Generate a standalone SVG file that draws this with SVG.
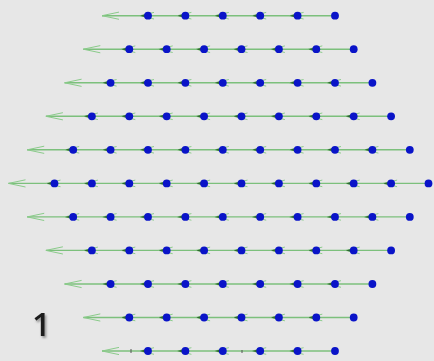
<svg xmlns="http://www.w3.org/2000/svg" width="434" height="361" viewBox="0 0 434 361">
<style>
.e{stroke:#7cc07c;stroke-width:1.4;marker-end:url(#ah)}
.t{stroke:#7cc07c;stroke-width:1.4;marker-end:url(#tip)}
.n{fill:#0a14c8}
.lbl{font-family:"Open Sans","Liberation Sans",sans-serif;font-size:33px;font-weight:600;fill:#1a1a1a}
</style>
<defs>
<marker id="ah" markerUnits="userSpaceOnUse" markerWidth="16" markerHeight="10" refX="6" refY="5" orient="auto" overflow="visible">
<path d="M0,1.7 L14,5 L0,8.3" fill="none" stroke="#8ccc8c" stroke-width="1"/>
<path d="M14,5 L8,3.3 L8,6.7 Z" fill="#2e6a2e"/>
</marker>
<marker id="tip" markerUnits="userSpaceOnUse" markerWidth="18" markerHeight="8" refX="17" refY="4" orient="auto" overflow="visible">
<path d="M0,0.4 L17,4 L0,7.6" fill="none" stroke="#8acb8a" stroke-width="1"/>
</marker>
<filter id="sh" x="-30%" y="-30%" width="160%" height="160%">
<feDropShadow dx="1.5" dy="2" stdDeviation="1" flood-color="#7a7a7a" flood-opacity="0.8"/>
</filter>
</defs>
<rect width="434" height="361" fill="#e7e7e7"/>
<g id="connectors">
<!-- row 0 -->
<line class="t" x1="148" y1="15.7" x2="102" y2="15.7"/>
<line class="e" x1="185.4" y1="15.7" x2="148" y2="15.7"/>
<line class="e" x1="222.8" y1="15.7" x2="185.4" y2="15.7"/>
<line class="e" x1="260.2" y1="15.7" x2="222.8" y2="15.7"/>
<line class="e" x1="297.6" y1="15.7" x2="260.2" y2="15.7"/>
<line class="e" x1="335" y1="15.7" x2="297.6" y2="15.7"/>
<!-- row 1 -->
<line class="t" x1="129.3" y1="49.2" x2="83.3" y2="49.2"/>
<line class="e" x1="166.7" y1="49.2" x2="129.3" y2="49.2"/>
<line class="e" x1="204.1" y1="49.2" x2="166.7" y2="49.2"/>
<line class="e" x1="241.5" y1="49.2" x2="204.1" y2="49.2"/>
<line class="e" x1="278.9" y1="49.2" x2="241.5" y2="49.2"/>
<line class="e" x1="316.3" y1="49.2" x2="278.9" y2="49.2"/>
<line class="e" x1="353.7" y1="49.2" x2="316.3" y2="49.2"/>
<!-- row 2 -->
<line class="t" x1="110.6" y1="82.8" x2="64.6" y2="82.8"/>
<line class="e" x1="148" y1="82.8" x2="110.6" y2="82.8"/>
<line class="e" x1="185.4" y1="82.8" x2="148" y2="82.8"/>
<line class="e" x1="222.8" y1="82.8" x2="185.4" y2="82.8"/>
<line class="e" x1="260.2" y1="82.8" x2="222.8" y2="82.8"/>
<line class="e" x1="297.6" y1="82.8" x2="260.2" y2="82.8"/>
<line class="e" x1="335" y1="82.8" x2="297.6" y2="82.8"/>
<line class="e" x1="372.4" y1="82.8" x2="335" y2="82.8"/>
<!-- row 3 -->
<line class="t" x1="91.9" y1="116.3" x2="45.9" y2="116.3"/>
<line class="e" x1="129.3" y1="116.3" x2="91.9" y2="116.3"/>
<line class="e" x1="166.7" y1="116.3" x2="129.3" y2="116.3"/>
<line class="e" x1="204.1" y1="116.3" x2="166.7" y2="116.3"/>
<line class="e" x1="241.5" y1="116.3" x2="204.1" y2="116.3"/>
<line class="e" x1="278.9" y1="116.3" x2="241.5" y2="116.3"/>
<line class="e" x1="316.3" y1="116.3" x2="278.9" y2="116.3"/>
<line class="e" x1="353.7" y1="116.3" x2="316.3" y2="116.3"/>
<line class="e" x1="391.1" y1="116.3" x2="353.7" y2="116.3"/>
<!-- row 4 -->
<line class="t" x1="73.2" y1="149.8" x2="27.2" y2="149.8"/>
<line class="e" x1="110.6" y1="149.8" x2="73.2" y2="149.8"/>
<line class="e" x1="148" y1="149.8" x2="110.6" y2="149.8"/>
<line class="e" x1="185.4" y1="149.8" x2="148" y2="149.8"/>
<line class="e" x1="222.8" y1="149.8" x2="185.4" y2="149.8"/>
<line class="e" x1="260.2" y1="149.8" x2="222.8" y2="149.8"/>
<line class="e" x1="297.6" y1="149.8" x2="260.2" y2="149.8"/>
<line class="e" x1="335" y1="149.8" x2="297.6" y2="149.8"/>
<line class="e" x1="372.4" y1="149.8" x2="335" y2="149.8"/>
<line class="e" x1="409.8" y1="149.8" x2="372.4" y2="149.8"/>
<!-- row 5 -->
<line class="t" x1="54.5" y1="183.4" x2="8.5" y2="183.4"/>
<line class="e" x1="91.9" y1="183.4" x2="54.5" y2="183.4"/>
<line class="e" x1="129.3" y1="183.4" x2="91.9" y2="183.4"/>
<line class="e" x1="166.7" y1="183.4" x2="129.3" y2="183.4"/>
<line class="e" x1="204.1" y1="183.4" x2="166.7" y2="183.4"/>
<line class="e" x1="241.5" y1="183.4" x2="204.1" y2="183.4"/>
<line class="e" x1="278.9" y1="183.4" x2="241.5" y2="183.4"/>
<line class="e" x1="316.3" y1="183.4" x2="278.9" y2="183.4"/>
<line class="e" x1="353.7" y1="183.4" x2="316.3" y2="183.4"/>
<line class="e" x1="391.1" y1="183.4" x2="353.7" y2="183.4"/>
<line class="e" x1="428.5" y1="183.4" x2="391.1" y2="183.4"/>
<!-- row 6 -->
<line class="t" x1="73.2" y1="216.9" x2="27.2" y2="216.9"/>
<line class="e" x1="110.6" y1="216.9" x2="73.2" y2="216.9"/>
<line class="e" x1="148" y1="216.9" x2="110.6" y2="216.9"/>
<line class="e" x1="185.4" y1="216.9" x2="148" y2="216.9"/>
<line class="e" x1="222.8" y1="216.9" x2="185.4" y2="216.9"/>
<line class="e" x1="260.2" y1="216.9" x2="222.8" y2="216.9"/>
<line class="e" x1="297.6" y1="216.9" x2="260.2" y2="216.9"/>
<line class="e" x1="335" y1="216.9" x2="297.6" y2="216.9"/>
<line class="e" x1="372.4" y1="216.9" x2="335" y2="216.9"/>
<line class="e" x1="409.8" y1="216.9" x2="372.4" y2="216.9"/>
<!-- row 7 -->
<line class="t" x1="91.9" y1="250.4" x2="45.9" y2="250.4"/>
<line class="e" x1="129.3" y1="250.4" x2="91.9" y2="250.4"/>
<line class="e" x1="166.7" y1="250.4" x2="129.3" y2="250.4"/>
<line class="e" x1="204.1" y1="250.4" x2="166.7" y2="250.4"/>
<line class="e" x1="241.5" y1="250.4" x2="204.1" y2="250.4"/>
<line class="e" x1="278.9" y1="250.4" x2="241.5" y2="250.4"/>
<line class="e" x1="316.3" y1="250.4" x2="278.9" y2="250.4"/>
<line class="e" x1="353.7" y1="250.4" x2="316.3" y2="250.4"/>
<line class="e" x1="391.1" y1="250.4" x2="353.7" y2="250.4"/>
<!-- row 8 -->
<line class="t" x1="110.6" y1="284" x2="64.6" y2="284"/>
<line class="e" x1="148" y1="284" x2="110.6" y2="284"/>
<line class="e" x1="185.4" y1="284" x2="148" y2="284"/>
<line class="e" x1="222.8" y1="284" x2="185.4" y2="284"/>
<line class="e" x1="260.2" y1="284" x2="222.8" y2="284"/>
<line class="e" x1="297.6" y1="284" x2="260.2" y2="284"/>
<line class="e" x1="335" y1="284" x2="297.6" y2="284"/>
<line class="e" x1="372.4" y1="284" x2="335" y2="284"/>
<!-- row 9 -->
<line class="t" x1="129.3" y1="317.5" x2="83.3" y2="317.5"/>
<line class="e" x1="166.7" y1="317.5" x2="129.3" y2="317.5"/>
<line class="e" x1="204.1" y1="317.5" x2="166.7" y2="317.5"/>
<line class="e" x1="241.5" y1="317.5" x2="204.1" y2="317.5"/>
<line class="e" x1="278.9" y1="317.5" x2="241.5" y2="317.5"/>
<line class="e" x1="316.3" y1="317.5" x2="278.9" y2="317.5"/>
<line class="e" x1="353.7" y1="317.5" x2="316.3" y2="317.5"/>
<!-- row 10 -->
<line class="t" x1="148" y1="351" x2="102" y2="351"/>
<line class="e" x1="185.4" y1="351" x2="148" y2="351"/>
<line class="e" x1="222.8" y1="351" x2="185.4" y2="351"/>
<line class="e" x1="260.2" y1="351" x2="222.8" y2="351"/>
<line class="e" x1="297.6" y1="351" x2="260.2" y2="351"/>
<line class="e" x1="335" y1="351" x2="297.6" y2="351"/>
</g>
<g id="ticks" stroke="#555" stroke-width="1">
<line x1="131" y1="349" x2="131" y2="353"/>
<line x1="242" y1="350" x2="242" y2="353"/>
</g>
<g id="nodes">
<g id="r0d0"><circle class="n" cx="148" cy="15.7" r="3.9"/></g>
<g id="r0d1"><circle class="n" cx="185.4" cy="15.7" r="3.9"/></g>
<g id="r0d2"><circle class="n" cx="222.8" cy="15.7" r="3.9"/></g>
<g id="r0d3"><circle class="n" cx="260.2" cy="15.7" r="3.9"/></g>
<g id="r0d4"><circle class="n" cx="297.6" cy="15.7" r="3.9"/></g>
<g id="r0d5"><circle class="n" cx="335" cy="15.7" r="3.9"/></g>
<g id="r1d0"><circle class="n" cx="129.3" cy="49.2" r="3.9"/></g>
<g id="r1d1"><circle class="n" cx="166.7" cy="49.2" r="3.9"/></g>
<g id="r1d2"><circle class="n" cx="204.1" cy="49.2" r="3.9"/></g>
<g id="r1d3"><circle class="n" cx="241.5" cy="49.2" r="3.9"/></g>
<g id="r1d4"><circle class="n" cx="278.9" cy="49.2" r="3.9"/></g>
<g id="r1d5"><circle class="n" cx="316.3" cy="49.2" r="3.9"/></g>
<g id="r1d6"><circle class="n" cx="353.7" cy="49.2" r="3.9"/></g>
<g id="r2d0"><circle class="n" cx="110.6" cy="82.8" r="3.9"/></g>
<g id="r2d1"><circle class="n" cx="148" cy="82.8" r="3.9"/></g>
<g id="r2d2"><circle class="n" cx="185.4" cy="82.8" r="3.9"/></g>
<g id="r2d3"><circle class="n" cx="222.8" cy="82.8" r="3.9"/></g>
<g id="r2d4"><circle class="n" cx="260.2" cy="82.8" r="3.9"/></g>
<g id="r2d5"><circle class="n" cx="297.6" cy="82.8" r="3.9"/></g>
<g id="r2d6"><circle class="n" cx="335" cy="82.8" r="3.9"/></g>
<g id="r2d7"><circle class="n" cx="372.4" cy="82.8" r="3.9"/></g>
<g id="r3d0"><circle class="n" cx="91.9" cy="116.3" r="3.9"/></g>
<g id="r3d1"><circle class="n" cx="129.3" cy="116.3" r="3.9"/></g>
<g id="r3d2"><circle class="n" cx="166.7" cy="116.3" r="3.9"/></g>
<g id="r3d3"><circle class="n" cx="204.1" cy="116.3" r="3.9"/></g>
<g id="r3d4"><circle class="n" cx="241.5" cy="116.3" r="3.9"/></g>
<g id="r3d5"><circle class="n" cx="278.9" cy="116.3" r="3.9"/></g>
<g id="r3d6"><circle class="n" cx="316.3" cy="116.3" r="3.9"/></g>
<g id="r3d7"><circle class="n" cx="353.7" cy="116.3" r="3.9"/></g>
<g id="r3d8"><circle class="n" cx="391.1" cy="116.3" r="3.9"/></g>
<g id="r4d0"><circle class="n" cx="73.2" cy="149.8" r="3.9"/></g>
<g id="r4d1"><circle class="n" cx="110.6" cy="149.8" r="3.9"/></g>
<g id="r4d2"><circle class="n" cx="148" cy="149.8" r="3.9"/></g>
<g id="r4d3"><circle class="n" cx="185.4" cy="149.8" r="3.9"/></g>
<g id="r4d4"><circle class="n" cx="222.8" cy="149.8" r="3.9"/></g>
<g id="r4d5"><circle class="n" cx="260.2" cy="149.8" r="3.9"/></g>
<g id="r4d6"><circle class="n" cx="297.6" cy="149.8" r="3.9"/></g>
<g id="r4d7"><circle class="n" cx="335" cy="149.8" r="3.9"/></g>
<g id="r4d8"><circle class="n" cx="372.4" cy="149.8" r="3.9"/></g>
<g id="r4d9"><circle class="n" cx="409.8" cy="149.8" r="3.9"/></g>
<g id="r5d0"><circle class="n" cx="54.5" cy="183.4" r="3.9"/></g>
<g id="r5d1"><circle class="n" cx="91.9" cy="183.4" r="3.9"/></g>
<g id="r5d2"><circle class="n" cx="129.3" cy="183.4" r="3.9"/></g>
<g id="r5d3"><circle class="n" cx="166.7" cy="183.4" r="3.9"/></g>
<g id="r5d4"><circle class="n" cx="204.1" cy="183.4" r="3.9"/></g>
<g id="r5d5"><circle class="n" cx="241.5" cy="183.4" r="3.9"/></g>
<g id="r5d6"><circle class="n" cx="278.9" cy="183.4" r="3.9"/></g>
<g id="r5d7"><circle class="n" cx="316.3" cy="183.4" r="3.9"/></g>
<g id="r5d8"><circle class="n" cx="353.7" cy="183.4" r="3.9"/></g>
<g id="r5d9"><circle class="n" cx="391.1" cy="183.4" r="3.9"/></g>
<g id="r5d10"><circle class="n" cx="428.5" cy="183.4" r="3.9"/></g>
<g id="r6d0"><circle class="n" cx="73.2" cy="216.9" r="3.9"/></g>
<g id="r6d1"><circle class="n" cx="110.6" cy="216.9" r="3.9"/></g>
<g id="r6d2"><circle class="n" cx="148" cy="216.9" r="3.9"/></g>
<g id="r6d3"><circle class="n" cx="185.4" cy="216.9" r="3.9"/></g>
<g id="r6d4"><circle class="n" cx="222.8" cy="216.9" r="3.9"/></g>
<g id="r6d5"><circle class="n" cx="260.2" cy="216.9" r="3.9"/></g>
<g id="r6d6"><circle class="n" cx="297.6" cy="216.9" r="3.9"/></g>
<g id="r6d7"><circle class="n" cx="335" cy="216.9" r="3.9"/></g>
<g id="r6d8"><circle class="n" cx="372.4" cy="216.9" r="3.9"/></g>
<g id="r6d9"><circle class="n" cx="409.8" cy="216.9" r="3.9"/></g>
<g id="r7d0"><circle class="n" cx="91.9" cy="250.4" r="3.9"/></g>
<g id="r7d1"><circle class="n" cx="129.3" cy="250.4" r="3.9"/></g>
<g id="r7d2"><circle class="n" cx="166.7" cy="250.4" r="3.9"/></g>
<g id="r7d3"><circle class="n" cx="204.1" cy="250.4" r="3.9"/></g>
<g id="r7d4"><circle class="n" cx="241.5" cy="250.4" r="3.9"/></g>
<g id="r7d5"><circle class="n" cx="278.9" cy="250.4" r="3.9"/></g>
<g id="r7d6"><circle class="n" cx="316.3" cy="250.4" r="3.9"/></g>
<g id="r7d7"><circle class="n" cx="353.7" cy="250.4" r="3.9"/></g>
<g id="r7d8"><circle class="n" cx="391.1" cy="250.4" r="3.9"/></g>
<g id="r8d0"><circle class="n" cx="110.6" cy="284" r="3.9"/></g>
<g id="r8d1"><circle class="n" cx="148" cy="284" r="3.9"/></g>
<g id="r8d2"><circle class="n" cx="185.4" cy="284" r="3.9"/></g>
<g id="r8d3"><circle class="n" cx="222.8" cy="284" r="3.9"/></g>
<g id="r8d4"><circle class="n" cx="260.2" cy="284" r="3.9"/></g>
<g id="r8d5"><circle class="n" cx="297.6" cy="284" r="3.9"/></g>
<g id="r8d6"><circle class="n" cx="335" cy="284" r="3.9"/></g>
<g id="r8d7"><circle class="n" cx="372.4" cy="284" r="3.9"/></g>
<g id="r9d0"><circle class="n" cx="129.3" cy="317.5" r="3.9"/></g>
<g id="r9d1"><circle class="n" cx="166.7" cy="317.5" r="3.9"/></g>
<g id="r9d2"><circle class="n" cx="204.1" cy="317.5" r="3.9"/></g>
<g id="r9d3"><circle class="n" cx="241.5" cy="317.5" r="3.9"/></g>
<g id="r9d4"><circle class="n" cx="278.9" cy="317.5" r="3.9"/></g>
<g id="r9d5"><circle class="n" cx="316.3" cy="317.5" r="3.9"/></g>
<g id="r9d6"><circle class="n" cx="353.7" cy="317.5" r="3.9"/></g>
<g id="r10d0"><circle class="n" cx="148" cy="351" r="3.9"/></g>
<g id="r10d1"><circle class="n" cx="185.4" cy="351" r="3.9"/></g>
<g id="r10d2"><circle class="n" cx="222.8" cy="351" r="3.9"/></g>
<g id="r10d3"><circle class="n" cx="260.2" cy="351" r="3.9"/></g>
<g id="r10d4"><circle class="n" cx="297.6" cy="351" r="3.9"/></g>
<g id="r10d5"><circle class="n" cx="335" cy="351" r="3.9"/></g>
</g>
<g id="label">
<text class="lbl" x="32" y="336" filter="url(#sh)">1</text>
</g>
</svg>
